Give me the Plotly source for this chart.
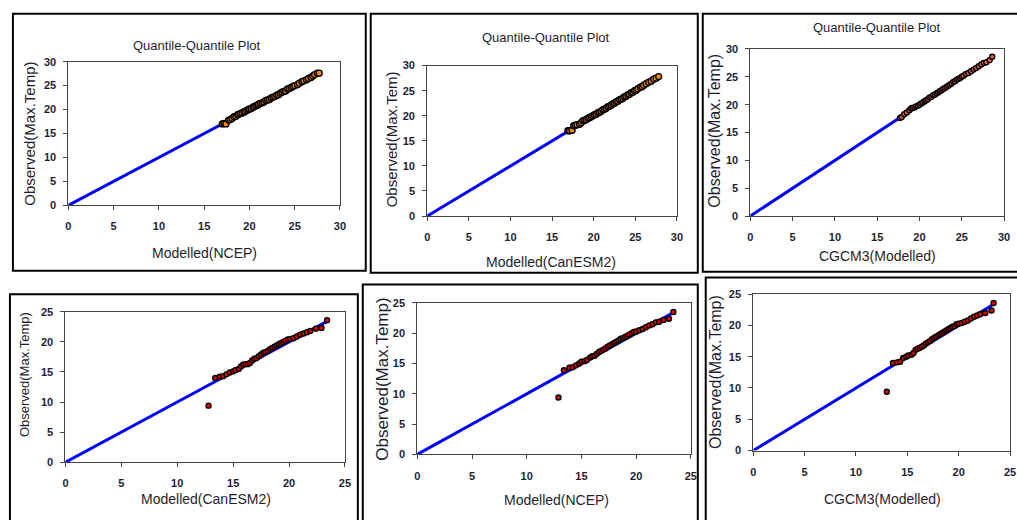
import plotly.graph_objects as go

W, H = 1017, 520

# ---------------- data ----------------
# Top row (0-30 axes)
ncep_top_x = [17.0, 17.2, 17.4, 17.7, 17.9, 18.1, 18.3, 18.5, 18.7, 18.8, 19.0, 19.2, 19.4, 19.5,
              19.7, 19.9, 20.0, 20.2, 20.4, 20.5, 20.7, 20.9, 21.0, 21.2, 21.4, 21.6, 21.8, 22.0,
              22.2, 22.4, 22.6, 22.8, 23.0, 23.2, 23.4, 23.6, 23.8, 24.0, 24.2, 24.4, 24.6, 24.8,
              25.0, 25.3, 25.5, 25.8, 26.0, 26.3, 26.5, 26.8, 27.0, 27.2, 27.5, 27.7]
ncep_top_y = [17.0, 17.1, 17.0, 17.8, 17.9, 18.2, 18.5, 18.6, 18.9, 19.0, 19.2, 19.3, 19.5, 19.6,
              19.8, 20.0, 20.1, 20.2, 20.5, 20.6, 20.8, 20.9, 21.1, 21.3, 21.4, 21.6, 21.9, 22.0,
              22.1, 22.4, 22.6, 22.7, 23.0, 23.1, 23.4, 23.6, 23.8, 23.9, 24.3, 24.4, 24.6, 24.8,
              25.0, 25.2, 25.5, 25.8, 26.0, 26.2, 26.5, 26.7, 27.0, 27.3, 27.6, 27.6]

can_top_x = [16.9, 17.1, 17.4, 17.6, 17.8, 18.0, 18.3, 18.5, 18.7, 18.9, 19.1, 19.3, 19.5, 19.7,
             19.9, 20.1, 20.3, 20.5, 20.7, 20.9, 21.1, 21.3, 21.5, 21.7, 21.9, 22.1, 22.3, 22.5,
             22.7, 22.9, 23.1, 23.3, 23.5, 23.7, 23.9, 24.1, 24.3, 24.5, 24.7, 24.9, 25.1, 25.3,
             25.6, 25.8, 26.0, 26.3, 26.6, 26.9, 27.2, 27.5, 27.8]
can_top_y = [17.0, 17.0, 17.1, 18.0, 18.1, 18.2, 18.3, 18.6, 19.0, 19.1, 19.2, 19.5, 19.6, 19.8,
             20.0, 20.2, 20.3, 20.6, 20.7, 20.9, 21.2, 21.3, 21.5, 21.8, 21.9, 22.1, 22.4, 22.5,
             22.8, 22.9, 23.2, 23.3, 23.5, 23.8, 23.9, 24.2, 24.3, 24.6, 24.7, 25.0, 25.1, 25.4,
             25.7, 25.8, 26.1, 26.4, 26.7, 26.9, 27.3, 27.5, 27.8]

cgcm_top_x = [17.7, 17.9, 18.2, 18.5, 18.8, 19.0, 19.2, 19.4, 19.6, 19.8, 20.0, 20.2, 20.4, 20.6,
              20.8, 21.0, 21.2, 21.4, 21.6, 21.8, 22.0, 22.2, 22.4, 22.6, 22.8, 23.0, 23.2, 23.4,
              23.6, 23.8, 24.0, 24.2, 24.4, 24.6, 24.8, 25.0, 25.2, 25.5, 25.8, 26.1, 26.4, 26.7,
              27.0, 27.3, 27.6, 27.9, 28.3, 28.6]
cgcm_top_y = [17.6, 17.8, 18.3, 18.6, 19.0, 19.3, 19.4, 19.5, 19.7, 19.8, 20.0, 20.2, 20.4, 20.6,
              20.8, 21.0, 21.3, 21.4, 21.7, 21.8, 22.0, 22.2, 22.4, 22.6, 22.8, 23.0, 23.2, 23.4,
              23.6, 23.8, 24.1, 24.2, 24.5, 24.6, 24.8, 25.0, 25.2, 25.5, 25.7, 26.0, 26.3, 26.6,
              26.9, 27.2, 27.5, 27.6, 28.0, 28.6]

# Bottom row (0-25 axes)
can_bot_x = [12.8, 13.4, 13.8, 14.1, 14.4, 14.7, 15.0, 15.2, 15.5, 15.7, 15.9, 16.1, 16.3, 16.5,
             16.7, 16.9, 17.1, 17.3, 17.5, 17.7, 17.9, 18.1, 18.3, 18.5, 18.7, 18.9, 19.1, 19.3,
             19.5, 19.7, 19.9, 20.1, 20.4, 20.7, 21.0, 21.3, 21.6, 21.9, 22.4, 22.9, 23.4]
can_bot_y = [9.4, 14.0, 14.2, 14.3, 14.6, 14.9, 15.1, 15.3, 15.5, 15.9, 16.2, 16.3, 16.3, 16.5,
             16.9, 17.2, 17.3, 17.6, 17.9, 18.2, 18.3, 18.5, 18.8, 19.0, 19.2, 19.4, 19.6, 19.8,
             20.0, 20.2, 20.4, 20.5, 20.6, 20.9, 21.2, 21.4, 21.6, 21.8, 22.2, 22.3, 23.6]

ncep_bot_x = [12.9, 13.4, 13.9, 14.2, 14.5, 14.8, 15.0, 15.3, 15.5, 15.8, 16.0, 16.2, 16.4, 16.6,
              16.8, 17.0, 17.2, 17.4, 17.6, 17.8, 18.0, 18.2, 18.4, 18.6, 18.8, 19.0, 19.2, 19.4,
              19.6, 19.8, 20.0, 20.3, 20.6, 20.9, 21.2, 21.5, 21.8, 22.1, 22.5, 23.0, 23.4]
ncep_bot_y = [9.4, 13.9, 14.3, 14.4, 14.7, 15.0, 15.3, 15.4, 15.6, 16.0, 16.2, 16.3, 16.6, 16.9,
              17.1, 17.3, 17.5, 17.8, 18.0, 18.2, 18.4, 18.6, 18.8, 19.1, 19.2, 19.4, 19.6, 19.8,
              20.0, 20.2, 20.3, 20.5, 20.7, 21.0, 21.3, 21.5, 21.8, 21.9, 22.2, 22.4, 23.5]

cgcm_bot_x = [13.0, 13.6, 14.0, 14.3, 14.6, 14.9, 15.1, 15.4, 15.6, 15.8, 16.0, 16.2, 16.4, 16.6,
              16.8, 17.0, 17.2, 17.4, 17.6, 17.8, 18.0, 18.2, 18.4, 18.6, 18.8, 19.0, 19.2, 19.4,
              19.6, 19.8, 20.0, 20.3, 20.6, 20.9, 21.2, 21.5, 21.8, 22.1, 22.6, 23.2, 23.4]
cgcm_bot_y = [9.4, 14.0, 14.1, 14.2, 14.8, 15.0, 15.2, 15.3, 15.6, 16.1, 16.3, 16.4, 16.6, 16.8,
              17.1, 17.3, 17.5, 17.8, 18.0, 18.2, 18.4, 18.6, 18.8, 19.0, 19.2, 19.4, 19.6, 19.8,
              19.9, 20.2, 20.3, 20.4, 20.6, 20.8, 21.1, 21.4, 21.6, 21.8, 22.0, 22.4, 23.6]

# 1:1 reference lines
line_top_x = [0, 17.0, 27.7]
line_top_y = [0, 17.0, 27.7]
line_top3_x = [0, 17.7, 28.4]
line_top3_y = [0, 17.7, 28.4]
line_bot_x = [0, 13.4, 23.4]
line_bot_y = [0, 13.4, 23.4]

title_text = "Quantile-Quantile Plot"

# ---------------- layout helpers ----------------
NARROW = "Liberation Sans Narrow, Arial Narrow, Liberation Sans, Arial, sans-serif"
REG = "Liberation Sans, Arial, sans-serif"
TXT = "#1e1e2e"


def px2x(p):
    return p / W


def px2y(p):
    return 1 - p / H


panels = [
    dict(area=(66, 340, 57, 204), box=(10, 366, 8, 271), x=ncep_top_x, y=ncep_top_y,
         lx=line_top_x, ly=line_top_y, amax=30, title=(196, 40), xt=("Modelled(NCEP)", 203, 253),
         yt=("Observed(Max.Temp)", 27, 131, 15), mc="#FF8C00", ms=6),
    dict(area=(428, 680, 61, 215), box=(371, 701, 8, 273), x=can_top_x, y=can_top_y,
         lx=line_top_x, ly=line_top_y, amax=30, title=(548, 32), xt=("Modelled(CanESM2)", 553, 262),
         yt=("Observed(Max.Tem)", 392, 137, 15), mc="#FF8C00", ms=6),
    dict(area=(754, 1010, 44, 215), box=(706, 1030, 8, 272), x=cgcm_top_x, y=cgcm_top_y,
         lx=line_top3_x, ly=line_top3_y, amax=30, title=(882, 22), xt=("CGCM3(Modelled)", 882, 256),
         yt=("Observed(Max.Temp)", 717, 128, 16), mc="#F0604A", ms=5),
    dict(area=(63, 345, 313, 467), box=(7, 358, 295, 540), x=can_bot_x, y=can_bot_y,
         lx=line_bot_x, ly=line_bot_y, amax=25, title=None, xt=("Modelled(CanESM2)", 205, 505),
         yt=("Observed(Max.Temp)", 21, 377, 13), mc="#E00000", ms=5),
    dict(area=(418, 694, 304, 459), box=(363, 701, 285, 540), x=ncep_bot_x, y=ncep_bot_y,
         lx=line_bot_x, ly=line_bot_y, amax=25, title=None, xt=("Modelled(NCEP)", 558, 506),
         yt=("Observed(Max.Temp)", 383, 382, 17), mc="#E00000", ms=5),
    dict(area=(757, 1016, 295, 455), box=(709, 1030, 278, 540), x=cgcm_bot_x, y=cgcm_bot_y,
         lx=line_bot_x, ly=line_bot_y, amax=25, title=None, xt=("CGCM3(Modelled)", 887, 505),
         yt=("Observed(Max.Temp)", 719, 375, 16), mc="#E00000", ms=5),
]

fig = go.Figure()
layout = dict(width=W, height=H, margin=dict(l=0, r=0, t=0, b=0),
              paper_bgcolor="white", plot_bgcolor="white", showlegend=False)
annotations = []
shapes = []

for i, p in enumerate(panels, start=1):
    xa = "x" if i == 1 else f"x{i}"
    ya = "y" if i == 1 else f"y{i}"
    x0, x1, y0, y1 = p["area"]
    fig.add_trace(go.Scatter(x=p["lx"], y=p["ly"], mode="lines",
                             line=dict(color="#0000FF", width=3), xaxis=xa, yaxis=ya,
                             hoverinfo="skip"))
    fig.add_trace(go.Scatter(x=p["x"], y=p["y"], mode="markers",
                             marker=dict(color=p["mc"], size=p["ms"],
                                         line=dict(color="black", width=1.4)),
                             xaxis=xa, yaxis=ya))
    ticks = list(range(0, p["amax"] + 1, 5))
    axcommon = dict(range=[0, p["amax"]], tickvals=ticks, ticktext=[str(t) for t in ticks],
                    showgrid=False, zeroline=False, showline=True, linecolor="#444444",
                    linewidth=1, mirror=True, ticks="outside", ticklen=4, tickcolor="#444444",
                    tickfont=dict(family=NARROW, size=11, color=TXT, weight="bold"), fixedrange=True)
    layout["xaxis" if i == 1 else f"xaxis{i}"] = dict(
        axcommon, domain=[px2x(x0), px2x(x1)], anchor=ya, ticklabelstandoff=7)
    layout["yaxis" if i == 1 else f"yaxis{i}"] = dict(
        axcommon, domain=[px2y(y1), px2y(y0)], anchor=xa, ticklabelstandoff=5)

    bx0, bx1, by0, by1 = p["box"]
    shapes.append(dict(type="rect", xref="paper", yref="paper",
                       x0=px2x(bx0), x1=px2x(bx1), y0=px2y(by1), y1=px2y(by0),
                       line=dict(color="black", width=2), layer="below"))
    if p["title"]:
        tx, ty = p["title"]
        annotations.append(dict(text=title_text, x=px2x(tx), y=px2y(ty), xref="paper", yref="paper",
                                showarrow=False, xanchor="center", yanchor="middle",
                                font=dict(family=NARROW, size=13, color=TXT)))
    t, tx, ty = p["xt"]
    annotations.append(dict(text=t, x=px2x(tx), y=px2y(ty), xref="paper", yref="paper",
                            showarrow=False, xanchor="center", yanchor="middle",
                            font=dict(family=NARROW, size=14, color=TXT)))
    t, tx, ty, fs = p["yt"]
    annotations.append(dict(text=t, x=px2x(tx), y=px2y(ty), xref="paper", yref="paper",
                            showarrow=False, xanchor="center", yanchor="middle", textangle=-90,
                            font=dict(family=REG, size=fs, color=TXT)))

layout["annotations"] = annotations
layout["shapes"] = shapes
fig.update_layout(**layout)
fig.write_html("out.html", config={"displayModeBar": False},
               post_script="document.body.style.margin='0';document.body.style.padding='0';")
